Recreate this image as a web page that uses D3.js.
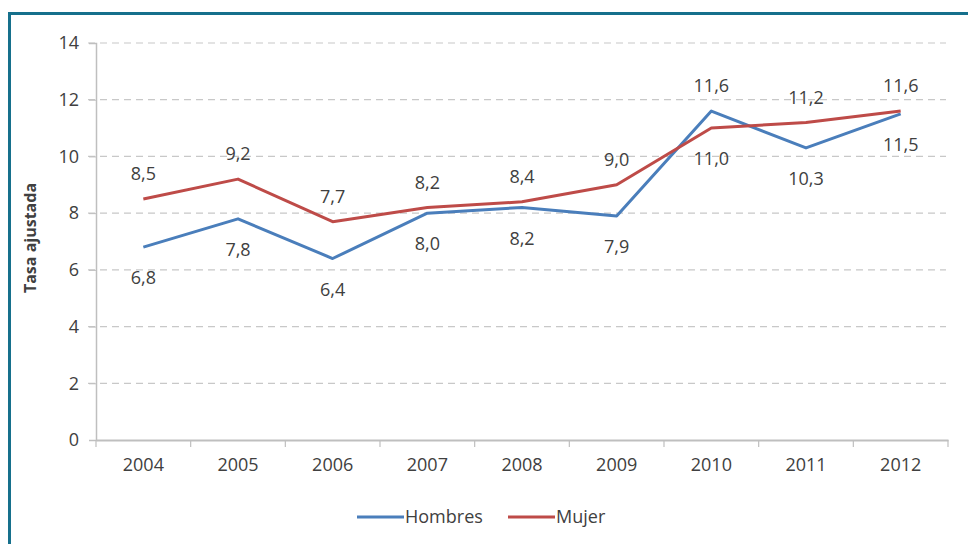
<!DOCTYPE html>
<html><head><meta charset="utf-8">
<script src="https://cdn.jsdelivr.net/npm/d3@7"></script>
<style>
body{margin:0;background:#fff;}
svg{display:block;}
text{font-family:"Open Sans",Lato,sans-serif;fill:#404040;}
</style></head>
<body><svg id="c" width="968" height="544"></svg>
<script>
const years = ["2004","2005","2006","2007","2008","2009","2010","2011","2012"];
const hombres = [6.8,7.8,6.4,8.0,8.2,7.9,11.6,10.3,11.5];
const mujer = [8.5,9.2,7.7,8.2,8.4,9.0,11.0,11.2,11.6];
const hombresLabelPos = ["below","below","below","below","below","below","above","below","below"];
const mujerLabelPos = ["above","above","above","above","above","above","below","above","above"];
const yTicks = [0,2,4,6,8,10,12,14];
const seriesNames = ["Hombres","Mujer"];
const colors = ["#4a7ebb","#be4b48"];

const svg = d3.select("#c");
const L=96, R=948, T=43, B=440;

svg.append("path").attr("d","M9.5,544 V13.5 H968").attr("fill","none").attr("stroke","#16708c").attr("stroke-width",3);

const x = d3.scaleBand().domain(years).range([L,R]);
const y = d3.scaleLinear().domain([0,14]).range([B,T]);
const fmt = v => v.toFixed(1).replace(".",",");

// gridlines
svg.append("g").selectAll("line").data(yTicks.filter(d=>d>0)).join("line")
  .attr("x1",L-8).attr("x2",R-2).attr("y1",d=>y(d)).attr("y2",d=>y(d))
  .attr("stroke","#c8c8c8").attr("stroke-width",1.2).attr("stroke-dasharray","7,5");

// y axis
const ya = svg.append("g").attr("transform",`translate(${L},0)`)
  .call(d3.axisLeft(y).tickValues(yTicks).tickSize(7).tickPadding(10).tickFormat(d=>d));
ya.select(".domain").attr("stroke","#bfbfbf").attr("stroke-width",1.5);
ya.selectAll(".tick line").attr("stroke","#bfbfbf");
ya.selectAll("text").style("font-size","18px").attr("fill","#404040").style("font-family","'Open Sans',sans-serif");

// x axis
const xa = svg.append("g").attr("transform",`translate(0,${B})`)
  .call(d3.axisBottom(x).tickSize(0).tickPadding(18));
xa.select(".domain").attr("stroke","#bfbfbf").attr("stroke-width",2);
xa.selectAll("text").style("font-size","18px").attr("fill","#404040").style("font-family","'Open Sans',sans-serif");
const bounds = years.map((d,i)=>L + i*x.bandwidth()).concat([R]);
svg.append("g").selectAll("line").data(bounds).join("line")
  .attr("x1",d=>d).attr("x2",d=>d).attr("y1",B).attr("y2",B+7)
  .attr("stroke","#bfbfbf").attr("stroke-width",1.2);

// y title
svg.append("text").attr("transform","translate(36,238) rotate(-90)")
  .attr("text-anchor","middle").style("font-size","16px").style("font-weight","bold")
  .attr("fill","#000").text("Tasa ajustada");

const line = d3.line().x((d,i)=>x(years[i])+x.bandwidth()/2).y(d=>y(d));
[hombres,mujer].forEach((s,k)=>{
  svg.append("path").datum(s).attr("d",line).attr("fill","none")
    .attr("stroke",colors[k]).attr("stroke-width",3).attr("stroke-linejoin","round");
});
[[hombres,hombresLabelPos],[mujer,mujerLabelPos]].forEach(([s,pos])=>{
  svg.append("g").selectAll("text").data(s).join("text")
    .attr("x",(d,i)=>x(years[i])+x.bandwidth()/2)
    .attr("y",(d,i)=>y(d)+(pos[i]==="below"?31:-25))
    .attr("dy","0.35em").attr("text-anchor","middle")
    .style("font-size","18px").attr("fill","#333").text(fmt);
});

// legend
const lg = [{x:357,name:seriesNames[0],c:colors[0]},{x:508,name:seriesNames[1],c:colors[1]}];
lg.forEach(l=>{
  svg.append("line").attr("x1",l.x).attr("x2",l.x+47).attr("y1",517).attr("y2",517)
    .attr("stroke",l.c).attr("stroke-width",3);
  svg.append("text").attr("x",l.x+48).attr("y",517).attr("dy","0.35em")
    .style("font-size","18px").attr("fill","#404040").text(l.name);
});
</script></body></html>
